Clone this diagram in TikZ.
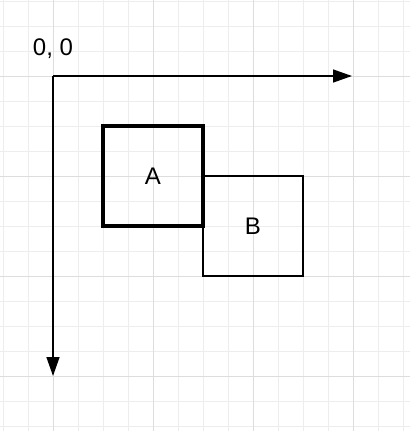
\documentclass[tikz,border=0pt]{standalone}
\usepackage{fontspec}
\setmainfont{Liberation Sans}
\usetikzlibrary{arrows.meta}
\definecolor{minorgrid}{HTML}{EDEDED}
\definecolor{majorgrid}{HTML}{DDDDDD}
\tikzset{
  boxA/.style={draw=black, line width=3.1pt, minimum size=100pt, inner sep=0pt, font=\fontsize{24}{26}\selectfont},
  boxB/.style={draw=black, line width=1.3pt, minimum size=100pt, inner sep=0pt, font=\fontsize{24}{26}\selectfont},
  axis/.style={draw=black, line width=1.4pt, -{Triangle[length=19pt, width=13pt]}},
  lbl/.style={font=\fontsize{24}{26}\selectfont, inner sep=0pt}
}
\begin{document}
\begin{tikzpicture}[x=1pt, y=-1pt]
\useasboundingbox (0,0) rectangle (410,431);
\fill[white] (0,0) rectangle (410,431);
\foreach \x in {3,28,...,403} \draw[minorgrid, line width=1pt] (\x,0) -- (\x,431);
\foreach \y in {1,26,...,426} \draw[minorgrid, line width=1pt] (0,\y) -- (410,\y);
\foreach \x in {53,153,253,353} \draw[majorgrid, line width=1pt] (\x,0) -- (\x,431);
\foreach \y in {76,176,276,376} \draw[majorgrid, line width=1pt] (0,\y) -- (410,\y);
\coordinate (o) at (53,76);
\coordinate (xend) at (352,76);
\coordinate (yend) at (53,376);
\draw[axis] (o) -- (xend);
\draw[axis] (o) -- (yend);
\node[lbl] (origin) at (53,49) {0, 0};
\node[boxB] (B) at (253,226) {B};
\node[boxA] (A) at (153,176) {A};
\end{tikzpicture}
\end{document}
